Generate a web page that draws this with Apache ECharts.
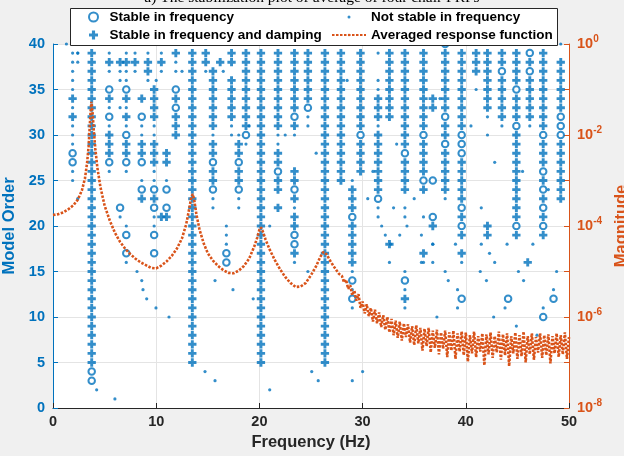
<!DOCTYPE html>
<html><head><meta charset="utf-8">
<script src="https://cdn.jsdelivr.net/npm/echarts@6/dist/echarts.min.js"></script>
<style>html,body{margin:0;padding:0;background:#f0f0f0;}#c{width:624px;height:456px;}</style>
</head><body><div id="c"></div>
<script>
// ---- Stabilization columns: frequency (Hz) and pattern per model order ----
// pattern groups: orders 40-36 | 35-31 | 30-26 | 25-21 | 20-16 | 15-11 | 10-6 | 5-1
// '+' stable in frequency and damping, 'o' stable in frequency, '.' not stable
const colFreq = [1.3, 1.9, 2.4, 3.75, 5.45, 6.5, 7.1, 7.95, 8.6, 9.2, 9.8, 10.5, 11.0, 11.9, 13.5, 14.8, 15.5, 16.2, 16.8, 17.3, 18.0, 18.7, 20.15, 21.8, 23.4, 24.7, 26.35, 27.9, 29.0, 29.8, 31.5, 32.6, 34.1, 35.9, 36.8, 38.0, 39.6, 41.0, 42.1, 43.5, 44.1, 44.9, 46.0, 46.2, 47.5, 48.5, 49.2];
const colPattern = [
".    |     |     |     |     |     |     |     ",
" ....|.+.+.|..oo.|.    |     |     |     |     ",
" ..  |     |     |  .  |     |     |     |     ",
" ++++|+++++|+++++|+++++|+++++|+++++|+++++|+oo  ",
" .+. |o+.o.|+++o.|     |     |     |     |     ",
"  +..|  .  |     |   o.|     |     |     |     ",
" .+..|o+.+.|o++o.|     |.o o.|     |     |     ",
" .+. |     |     |     |     |     |     |     ",
"     | + o.|.++o |.o+  |     |     |     |     ",
" .++.|     |     |     |     |     |     |     ",
"     |++++.|.+++.|.o+o.|.o o |     |     |     ",
" .+. |     |     |    +|     |     |     |     ",
"     |     |  ++ |.o o+|     |     |     |     ",
" +.. |o+o++|+    |     |     |     |     |     ",
" ++++|+++++|+++++|+++++|+++++|+++++|+++++|+    ",
" ++. |     |     |     |     |     |     |     ",
"   ++|+++++|.++o+|+o.. |     |     |     |     ",
"  +  |     |     |     |     |     |     |     ",
"     |     |     |     |...oo|     |     |     ",
" ++ +|++++.|.    |     |     |     |     |     ",
"     |     |.++o+|+o.. |     |     |     |     ",
" ++++|+++++|o.   |     |     |     |     |     ",
" ++++|+++++|+++++|+++++|+++++|+++++|+++++|+    ",
" ++++|+++++|..++o|++ + |     |     |     |     ",
" ++++|+++o+|.   +|+o+.+|+oo+.|     |     |     ",
" ++++|++o..|     |     |     |     |     |     ",
" ++++|+++++|+++++|+++++|+++++|+++++|+++++|+    ",
" ++++|+++++|+++++|+    |     |     |     |     ",
"     |     |     |.+++o|+++++|.o.o.|     |  .  ",
" ++++|+++++|o++++|     |     |     |     |     ",
" .  .|.+++.|+++++|++o..|     |     |     |     ",
" ++++|++++ |     |     |  + .|     |     |     ",
" ++++|+++++|++o++|++ ..|     |.o.+.|     |     ",
" ++++|+++++|o++++|o+  .|   +.|     |     |     ",
"     | ++  |     |o   o|+ .  |     |     |     ",
"o++++|+++o+|+o+++|++.  |     |     |     |     ",
" ++++|+++++|ooo++|+++o+|o+ + |   o |     |     ",
" +++ |.    |     |     |     |     |     |     ",
" ++++|+++. |.    |     |++   |     |     |     ",
" ++o+|++++.|     |     |     |     |     |     ",
"     |     |     |     |     |   o |     |     ",
" ++++|o+++o|+++++|+++++|o+   |     |     |     ",
"     |     |     |     |    +|     |     |     ",
" o+o+|++++.|     |     |     |     |     |     ",
" ++++|+++++|o+++o|+o+o+|o+   |     |o    |     ",
"     |     |     |     |     |   o |     |     ",
". +++|+++oo|o++++|+++  |     |     |     |     "
];
// ---- Scattered unstable poles ----
const dotFreq  = [8.14, 8.6, 8.72, 9.08, 9.98, 11.24, 4.23, 6.0, 14.73, 15.7, 15.7, 17.44, 19.4, 21.0, 21.0, 24.7, 25.07, 25.7, 30.0, 31.85, 32.2, 32.7, 33.6, 34.3, 35.7, 35.7, 36.8, 36.8, 38.0, 38.3, 39.0, 39.2, 39.6, 39.2, 37.2, 41.5, 42.3, 42.8, 41.4, 42.0, 44.0, 45.1, 45.6, 46.5, 48.8, 42.7, 44.9, 43.8, 48.5, 47.5, 46.9, 2.4, 10.0, 12.5, 16.5, 19.0, 22.5, 25.5, 28.5, 31.0, 33.3, 37.5, 40.5, 42.8, 45.5, 48.0, 41.5, 35.0, 30.5, 33.0];
const dotOrder = [15, 14, 13, 12, 11, 10, 2, 1, 4, 3, 14, 13, 12, 20, 2, 15, 4, 3, 4, 20, 19, 18, 19, 20, 19, 16, 18, 16, 15, 14, 18, 13, 16, 11, 10, 18, 17, 16, 15, 14, 18, 15, 14, 18, 15, 10, 9, 11, 13, 11, 8, 39, 36, 37, 37, 31, 30, 28, 36, 26, 29, 34, 31, 27, 26, 24, 22, 23, 23, 22];
// ---- Averaged response function (log10 of magnitude) ----
const frfFreq = [0,0.5,1,1.5,2,2.4,2.8,3.1,3.3,3.45,3.55,3.65,3.72,3.78,3.85,3.95,4.1,4.3,4.6,5,5.5,6,6.5,7,7.5,8,8.5,9,9.5,10,10.5,11,11.5,12,12.5,12.9,13.2,13.4,13.55,13.7,13.9,14.2,14.6,15,15.5,16,16.5,17,17.5,18,18.5,19,19.5,19.8,20,20.15,20.3,20.6,21,21.5,22,22.5,23,23.5,24,24.5,25,25.5,25.9,26.2,26.5,26.9,27.3,27.7,
28.0,28.2,28.4,28.6,28.8,29.0,29.2,29.4,29.6,29.8,30.0,30.2,30.4,30.6,30.8,31.0,31.2,31.4,31.6,31.8,32.0,32.2,32.4,32.6,32.8,33.0,33.2,33.4,33.6,33.8,34.0,34.2,34.4,34.6,34.8,35.0,35.2,35.4,35.6,35.8,36.0,36.2,36.4,36.6,36.8,37.0,37.2,37.4,37.6,37.8,38.0,38.2,38.4,38.6,38.8,39.0,39.2,39.4,39.6,39.8,40.0,40.2,40.4,40.6,40.8,41.0,41.2,41.4,41.6,41.8,42.0,42.2,42.4,42.6,42.8,43.0,43.2,43.4,43.6,43.8,44.0,44.2,44.4,44.6,44.8,45.0,45.2,45.4,45.6,45.8,46.0,46.2,46.4,46.6,46.8,47.0,47.2,47.4,47.6,47.8,48.0,48.2,48.4,48.6,48.8,49.0,49.2,49.4,49.6,49.8,50.0];
const frfLog = [-3.76,-3.74,-3.70,-3.63,-3.54,-3.42,-3.22,-2.95,-2.62,-2.25,-1.85,-1.45,-1.27,-1.30,-1.55,-1.90,-2.30,-2.72,-3.15,-3.55,-3.88,-4.15,-4.35,-4.50,-4.62,-4.72,-4.80,-4.86,-4.92,-4.93,-4.87,-4.78,-4.66,-4.50,-4.27,-3.97,-3.62,-3.36,-3.30,-3.45,-3.75,-4.08,-4.38,-4.60,-4.76,-4.88,-4.97,-5.03,-5.04,-4.98,-4.88,-4.72,-4.45,-4.25,-4.08,-4.03,-4.10,-4.30,-4.52,-4.75,-4.95,-5.12,-5.25,-5.34,-5.33,-5.25,-5.08,-4.88,-4.68,-4.57,-4.62,-4.78,-4.92,-5.05,
-5.10,-5.24,-5.18,-5.38,-5.30,-5.52,-5.42,-5.64,-5.50,-5.80,-5.66,-5.92,-5.72,-5.98,-5.80,-6.10,-5.84,-6.14,-5.90,-6.22,-5.96,-6.28,-6.00,-6.34,-6.04,-6.40,-6.08,-6.46,-6.10,-6.52,-6.14,-6.44,-6.16,-6.56,-6.20,-6.62,-6.18,-6.58,-6.24,-6.74,-6.26,-6.64,-6.24,-6.78,-6.30,-6.68,-6.28,-6.82,-6.34,-6.70,-6.30,-6.88,-6.34,-6.74,-6.30,-6.92,-6.36,-6.76,-6.32,-6.84,-6.34,-6.98,-6.40,-6.80,-6.32,-6.88,-6.42,-6.76,-6.36,-7.06,-6.38,-6.82,-6.34,-6.90,-6.42,-6.78,-6.32,-6.94,-6.38,-6.84,-6.36,-7.08,-6.42,-6.80,-6.34,-6.92,-6.40,-6.86,-6.32,-7.00,-6.42,-6.82,-6.36,-6.94,-6.44,-6.78,-6.36,-6.90,-6.40,-6.84,-6.38,-7.02,-6.42,-6.80,-6.36,-6.88,-6.40,-6.82,-6.34,-6.92,-6.44];
const xTicks = [0, 10, 20, 30, 40, 50];

const FONT = '"Liberation Sans", Arial, sans-serif';
const BLUE = '#0072BD', ORANGE = '#D95319', DARK = '#262626';
const PLUS = 'path://M2.6,0H5.4V2.6H8V5.4H5.4V8H2.6V5.4H0V2.6H2.6Z';

function expand(ch) {
  const out = [];
  colFreq.forEach((f, i) => {
    const s = colPattern[i].replace(/\|/g, '');
    for (let j = 0; j < s.length; j++) if (s[j] === ch) out.push([f, 40 - j]);
  });
  return out;
}
const dotData = expand('.').concat(dotFreq.map((f, i) => [f, dotOrder[i]]));
const frfData = frfFreq.map((f, i) => [f, Math.pow(10, frfLog[i])]);

const legendText = {fontFamily: FONT, fontSize: 13.5, fontWeight: 'bold', color: '#000'};
const chart = echarts.init(document.getElementById('c'), null, {renderer: 'canvas'});
chart.setOption({
  animation: false,
  backgroundColor: '#f0f0f0',
  title: {
    text: 'a) The stabilization plot of average of four chair FRFs',
    left: 'center', top: -10, padding: 0,
    textStyle: {fontFamily: '"Liberation Serif", "Times New Roman", serif', fontSize: 15.5, fontWeight: 'normal', color: '#000'}
  },
  grid: {left: 53, right: 55, top: 44, bottom: 48, show: true, backgroundColor: '#fff', borderWidth: 0, outerBoundsMode: 'none'},
  graphic: [{type: 'rect', left: 70, top: 8, z: 90, shape: {width: 487, height: 37}, style: {fill: '#fff', stroke: DARK, lineWidth: 1}}],
  legend: [
    {data: ['Stable in frequency', 'Stable in frequency and damping'], orient: 'vertical', left: 88, top: 10, z: 100, padding: 0,
     itemWidth: 22, itemHeight: 9, itemGap: 4, selectedMode: false, textStyle: legendText},
    {data: ['Not stable in frequency', 'Averaged response function'], orient: 'vertical', left: 331, top: 10, z: 100, padding: 0,
     itemWidth: 34, itemHeight: 3, itemGap: 4, selectedMode: false, textStyle: legendText}
  ],
  xAxis: {
    type: 'value', min: 0, max: 50, interval: 10,
    name: 'Frequency (Hz)', nameLocation: 'middle', nameGap: 24,
    nameTextStyle: {fontFamily: FONT, fontSize: 16.5, fontWeight: 'bold', color: DARK},
    axisLine: {lineStyle: {color: DARK}},
    axisTick: {inside: true, length: 5, lineStyle: {color: DARK}},
    axisLabel: {fontFamily: FONT, fontSize: 14.5, fontWeight: 'bold', color: DARK, margin: 6,
      formatter: v => xTicks.includes(v) ? String(v) : ''},
    splitLine: {show: true, lineStyle: {color: '#e4e4e4'}}
  },
  yAxis: [
    {type: 'value', min: 0, max: 40, interval: 5, position: 'left',
     name: 'Model Order', nameLocation: 'middle', nameGap: 29,
     nameTextStyle: {fontFamily: FONT, fontSize: 16.5, fontWeight: 'bold', color: BLUE},
     axisLine: {show: true, lineStyle: {color: BLUE}},
     axisTick: {show: true, inside: true, length: 5, lineStyle: {color: BLUE}},
     axisLabel: {fontFamily: FONT, fontSize: 14.5, fontWeight: 'bold', color: BLUE, margin: 8},
     splitLine: {show: true, lineStyle: {color: '#e4e4e4'}}},
    {type: 'log', logBase: 10, min: 1e-8, max: 1, position: 'right',
     name: 'Magnitude', nameLocation: 'middle', nameGap: 42,
     nameTextStyle: {fontFamily: FONT, fontSize: 16.5, fontWeight: 'bold', color: ORANGE},
     axisLine: {show: true, lineStyle: {color: ORANGE}},
     axisTick: {show: true, inside: true, length: 5, lineStyle: {color: ORANGE}},
     axisLabel: {fontFamily: FONT, fontSize: 14.5, fontWeight: 'bold', color: ORANGE, margin: 8,
       formatter: v => { const e = Math.round(Math.log10(v)); return e % 2 === 0 ? '10{s|' + e + '}' : ''; },
       rich: {s: {fontFamily: FONT, fontSize: 10, fontWeight: 'bold', color: ORANGE, padding: [0, 0, 9, 0]}}},
     splitLine: {show: false}}
  ],
  series: [
    {name: 'Stable in frequency', type: 'scatter', yAxisIndex: 0, symbol: 'emptyCircle', symbolSize: 6.5, z: 3,
     itemStyle: {color: BLUE, borderColor: BLUE, borderWidth: 2.6}, emphasis: {disabled: true}, data: expand('o')},
    {name: 'Not stable in frequency', type: 'scatter', yAxisIndex: 0, symbol: 'circle', symbolSize: 3.2, z: 3,
     itemStyle: {color: BLUE}, emphasis: {disabled: true}, data: dotData},
    {name: 'Stable in frequency and damping', type: 'scatter', yAxisIndex: 0, symbol: PLUS, symbolSize: 8.3, z: 3,
     itemStyle: {color: BLUE}, emphasis: {disabled: true}, data: expand('+')},
    {name: 'Averaged response function', type: 'line', yAxisIndex: 1, symbol: 'none', z: 5,
     itemStyle: {color: ORANGE}, lineStyle: {color: ORANGE, width: 2.6, type: [2.5, 1.5]},
     emphasis: {disabled: true}, data: frfData}
  ]
});
</script></body></html>
